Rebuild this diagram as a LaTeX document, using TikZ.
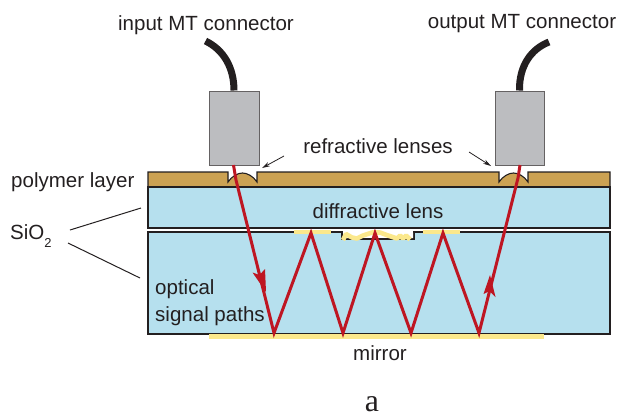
\documentclass[tikz,border=0pt]{standalone}
\usepackage{fontspec}
\setmainfont{Liberation Sans}
\newfontfamily\captionfamily{Liberation Serif}
\usetikzlibrary{arrows.meta}
\definecolor{glass}{HTML}{B6E0EE}
\definecolor{poly}{HTML}{CCA253}
\definecolor{mirr}{HTML}{FBE88C}
\definecolor{ray}{HTML}{BE1622}
\definecolor{conn}{HTML}{BCBDC0}
\definecolor{ink}{HTML}{231F20}
\tikzset{
  layerbox/.style={draw=ink,line width=1.1pt,line join=miter},
  mirrorbar/.style={fill=mirr,draw=none},
  connbox/.style={draw=ink!70,fill=conn,line width=1bp},
  cable/.style={draw=ink,line width=7bp},
  rayline/.style={draw=ray,line width=3bp,line join=miter},
  leader/.style={draw=ink,line width=1bp},
  pointer/.style={draw=ink,line width=.8bp,-{Stealth[length=8bp,width=4.5bp]}},
  lbl/.style={text=ink,font=\fontsize{20.6}{24}\selectfont,inner sep=0pt},
}
\begin{document}
\begin{tikzpicture}[x=1bp,y=-1bp]
\useasboundingbox (0,0) rectangle (617,418);
% layers
\draw[layerbox,fill=poly] (228,172) -- (148,172) -- (148,187) -- (610,187) -- (610,172) -- (528,172) -- (528,182)
   .. controls (524,176) and (518,173) .. (513.5,173) .. controls (509,173) and (503,176) .. (499,182) -- (499,172) -- (257,172) -- (257,182)
   .. controls (253,176) and (247,173) .. (242.5,173) .. controls (238,173) and (232,176) .. (228,182) -- cycle;
\draw[layerbox,fill=glass] (148,187) rectangle (610,228);
\draw[layerbox,fill=glass] (148,232) -- (342,232) -- (342,239) -- (414,239) -- (414,232) -- (610,232) -- (610,334) -- (148,334) -- cycle;
\fill[white] (343,232.6) -- (413,232.6) -- (413,238) -- (395,238) -- (380,233) -- (372,233) -- (357,238) -- (343,238) -- cycle;
% mirrors
\fill[mirrorbar] (209,334) rectangle (544,338.5);
\fill[mirrorbar] (294,229.5) rectangle (331,233.5);
\fill[mirrorbar] (423,229.5) rectangle (460,233.5);
\draw[mirr,line width=4.6bp,line join=bevel] (343,240) -- (346,234) -- (352,237.5) -- (357,238.5) -- (363,235.5) -- (372,232.5) -- (380,232.5) -- (388,235.5) -- (397,238.5) -- (400,235.5) -- (403,238.5) -- (406,235.5) -- (410,239.5);
% connectors
\node[connbox,minimum width=50bp,minimum height=74bp,inner sep=0pt] (inconn) at (234,128) {};
\node[connbox,minimum width=49bp,minimum height=74bp,inner sep=0pt] (outconn) at (519.5,128) {};
\coordinate (incableend) at (205.5,41);
\coordinate (outcableend) at (549,42);
\draw[cable] (inconn.north) .. controls (234,68) and (224,50) .. (incableend);
\draw[cable] (outconn.north) .. controls (519,66) and (531,49) .. (outcableend);
% rays
\coordinate (r0) at (233.5,165);
\coordinate (r1) at (236,180);
\coordinate (b1) at (274,333);
\coordinate (t1) at (311,233);
\coordinate (b2) at (343,333);
\coordinate (t2) at (375,233);
\coordinate (b3) at (411,333);
\coordinate (t3) at (443,233);
\coordinate (b4) at (479,333);
\coordinate (r2) at (518,178);
\coordinate (r3) at (520,165);
\draw[rayline] (r0) -- (r1) -- (b1) -- (t1) -- (b2) -- (t2) -- (b3) -- (t3) -- (b4) -- (r2) -- (r3);
\fill[ray] (266,292) -- (252.5,272.5) -- (259.5,275) -- (265,269) -- cycle;
\fill[ray] (490,275) -- (495.5,297) -- (489.5,291) -- (483.5,294) -- cycle;
% labels
\node[lbl] (inlabel) at (206,25) {input MT connector};
\node[lbl] (outlabel) at (522,24) {output MT connector};
\node[lbl] (reflabel) at (378,146) {refractive lenses};
\node[lbl,anchor=west] (polylabel) at (11,182) {polymer layer};
\node[lbl,anchor=west] (silabel) at (10,236) {SiO\raisebox{-8bp}{\fontsize{13}{15}\selectfont 2}};
\node[lbl] (difflabel) at (378,211) {diffractive lens};
\node[lbl,anchor=west] (optlabel) at (155,289) {optical};
\node[lbl,anchor=west] (siglabel) at (155,316) {signal paths};
\node[lbl] (mirlabel) at (380,353) {mirror};
\node[text=ink,font=\fontsize{32}{36}\selectfont\captionfamily,inner sep=0pt] (sublabel) at (372,404) {a};
% leaders
\coordinate (lensL) at (262,168);
\coordinate (lensR) at (491,166);
\coordinate (glassA) at (141,208);
\coordinate (glassB) at (140,278);
\coordinate (siA) at (70,230);
\coordinate (siB) at (68,243);
\draw[pointer] (284,156) -- (lensL);
\draw[pointer] (469,152) -- (lensR);
\draw[leader] (siA) -- (glassA);
\draw[leader] (siB) -- (glassB);
\end{tikzpicture}
\end{document}
